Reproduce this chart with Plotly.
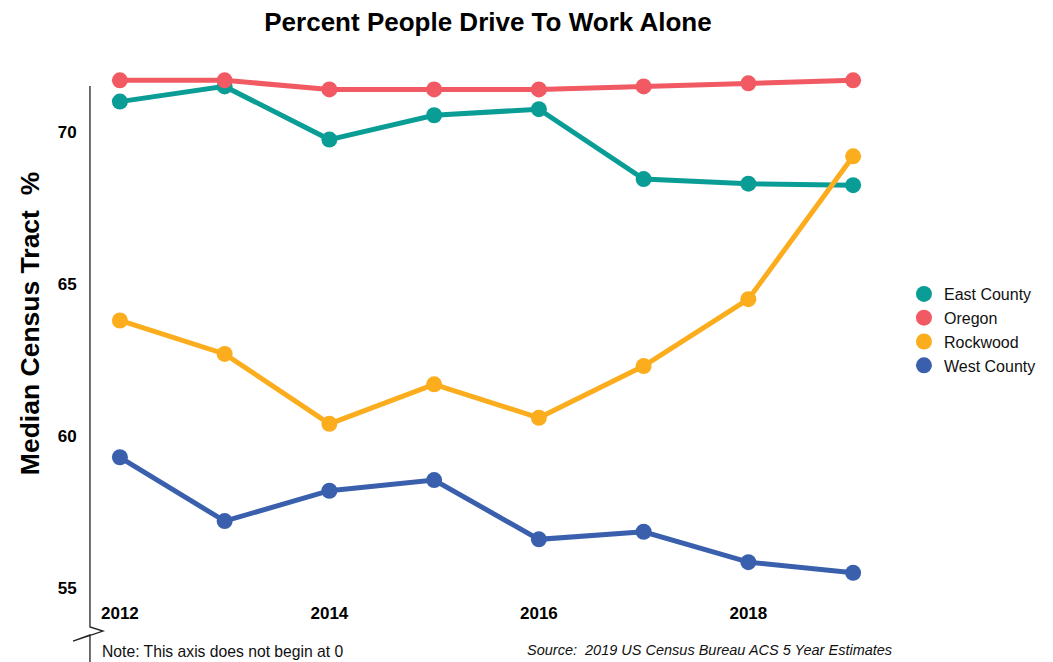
import plotly.graph_objects as go

# Data
years = [2012, 2013, 2014, 2015, 2016, 2017, 2018, 2019]
east_county = [71.0, 71.5, 69.75, 70.55, 70.75, 68.45, 68.3, 68.25]
oregon = [71.7, 71.7, 71.4, 71.4, 71.4, 71.5, 71.6, 71.7]
rockwood = [63.8, 62.7, 60.4, 61.7, 60.6, 62.3, 64.5, 69.2]
west_county = [59.3, 57.2, 58.2, 58.55, 56.6, 56.85, 55.85, 55.5]

SERIES = [
    ('East County', east_county, '#0a9d96'),
    ('Oregon', oregon, '#f15a62'),
    ('Rockwood', rockwood, '#fbad1d'),
    ('West County', west_county, '#3a60ad'),
]

W, H = 1053, 662
L, R, T, B = 89, 163, 60, 67
FONT = 'Liberation Sans, Arial, sans-serif'


def px(x, y):
    """Pixel position -> paper coordinates (for decorations only)."""
    return (x - L) / (W - L - R), (H - B - y) / (H - T - B)


fig = go.Figure()
for name, vals, colour in SERIES:
    fig.add_trace(go.Scatter(
        x=years, y=vals, name=name, showlegend=False,
        mode='lines+markers',
        line=dict(color=colour, width=5),
        marker=dict(color=colour, size=16),
    ))

# legend entries: marker only
for name, vals, colour in SERIES:
    fig.add_trace(go.Scatter(
        x=[None], y=[None], name=name, mode='markers',
        marker=dict(color=colour, size=16),
    ))

# Broken y-axis line with zigzag
pts = [(90, 86), (90, 627), (103, 631), (73, 641), (90, 635), (90, 662)]
path = 'M ' + ' L '.join(f'{px(x, y)[0]:.4f},{px(x, y)[1]:.4f}' for x, y in pts)
fig.add_shape(type='path', path=path, xref='paper', yref='paper',
              line=dict(color='#222222', width=1.3))

nx, ny = px(100, 651)
sx, sy = px(896, 650)
tx, ty = px(30, 324)
fig.add_annotation(text='Note: This axis does not begin at 0', xref='paper', yref='paper',
                   x=nx, y=ny, xanchor='left', yanchor='middle', showarrow=False,
                   font=dict(size=15.7, color='#111111', family=FONT))
fig.add_annotation(text='<i>Source:  2019 US Census Bureau ACS 5 Year Estimates</i>',
                   xref='paper', yref='paper', x=sx, y=sy, xanchor='right', yanchor='middle',
                   showarrow=False, font=dict(size=14.5, color='#111111', family=FONT))
fig.add_annotation(text='<b>Median Census Tract  %</b>', xref='paper', yref='paper',
                   x=tx, y=ty, xanchor='center', yanchor='middle', textangle=-90,
                   showarrow=False, font=dict(size=26.5, color='#000000', family=FONT))

lx, ly = px(906, 330)
fig.update_layout(
    width=W, height=H,
    margin=dict(l=L, r=R, t=T, b=B),
    paper_bgcolor='white', plot_bgcolor='white',
    font=dict(family=FONT, color='#111111'),
    title=dict(text='<b>Percent People Drive To Work Alone</b>', x=488 / W, xanchor='center',
               y=1 - 22 / H, yanchor='middle', font=dict(size=26, color='#000000')),
    legend=dict(x=lx, y=ly, xanchor='left', yanchor='middle', font=dict(size=16),
                tracegroupgap=0),
    showlegend=True,
)
fig.update_xaxes(range=[2011.705, 2019.333], tickvals=[2012, 2014, 2016, 2018],
                 ticktext=['<b>2012</b>', '<b>2014</b>', '<b>2016</b>', '<b>2018</b>'],
                 showgrid=False, zeroline=False, showline=False,
                 ticks='outside', ticklen=3, tickcolor='rgba(0,0,0,0)',
                 tickfont=dict(size=17, color='#000000'))
fig.update_yaxes(range=[55 - (595 - 588) / 30.4, 70 + (132 - 60) / 30.4],
                 tickvals=[55, 60, 65, 70],
                 ticktext=['<b>55</b>', '<b>60</b>', '<b>65</b>', '<b>70</b>'],
                 showgrid=False, zeroline=False, showline=False,
                 ticks='outside', ticklen=8, tickcolor='rgba(0,0,0,0)',
                 tickfont=dict(size=17, color='#000000'))

fig.write_html('out.html', config={'displayModeBar': False},
               post_script="document.body.style.margin='0';")
